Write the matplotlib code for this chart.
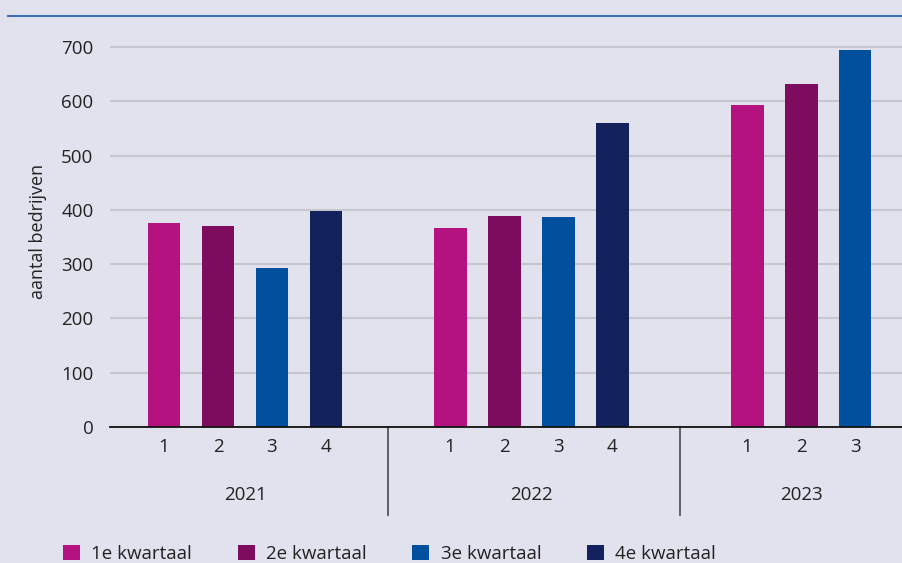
import matplotlib

matplotlib.use("Agg")
import matplotlib.pyplot as plt
from matplotlib.lines import Line2D
from matplotlib.patches import Patch

years = ["2021", "2022", "2023"]
quarters = [
    ["1", "2", "3", "4"],
    ["1", "2", "3", "4"],
    ["1", "2", "3"],
]
values = [
    [376, 370, 293, 398],
    [366, 389, 387, 560],
    [593, 632, 694],
]
legend_labels = ["1e kwartaal", "2e kwartaal", "3e kwartaal", "4e kwartaal"]
colors = ["#B3127F", "#7D0C5E", "#01509E", "#13215C"]

bg = "#E2E2EE"
plt.rcParams["font.family"] = ["Open Sans", "DejaVu Sans"]

fig = plt.figure(figsize=(9.02, 5.63), dpi=100, facecolor=bg)
ax = fig.add_axes([0.122, 0.2416, 0.878, 0.694])
ax.set_facecolor(bg)

group_gaps = [2.3, 2.5]
bar_width = 0.61

tick_pos = []
tick_lab = []
group_bounds = []
start = 0.0
for g, year in enumerate(years):
    xs = [start + i for i in range(len(values[g]))]
    for i, (x, v) in enumerate(zip(xs, values[g])):
        ax.bar(x, v, width=bar_width, color=colors[i], zorder=3)
    tick_pos += xs
    tick_lab += quarters[g]
    group_bounds.append((xs[0], xs[-1]))
    if g < len(group_gaps):
        start = xs[-1] + group_gaps[g]

ax.set_xlim(-1.0, 13.67)
ax.set_ylim(0, 720)
ax.set_yticks(range(0, 701, 100))
ax.set_xticks(tick_pos)
ax.set_xticklabels(tick_lab)
ax.tick_params(axis="x", length=0, pad=8, labelsize=13.5, colors="#222222")
ax.tick_params(axis="y", length=0, pad=12, labelsize=13.5, colors="#222222")
ax.grid(axis="y", color="#C6C6CF", linewidth=1.5, zorder=0)
for s in ["top", "right", "left"]:
    ax.spines[s].set_visible(False)
ax.spines["bottom"].set_color("#111111")
ax.spines["bottom"].set_linewidth(1.3)
ax.spines["bottom"].set_zorder(4)

ax.set_ylabel("aantal bedrijven", fontsize=13, color="#222222", labelpad=10)

# year labels and separators below the axis
trans = ax.get_xaxis_transform()
for g, (a, b) in enumerate(group_bounds):
    ax.text((a + b) / 2, -0.174, years[g], transform=trans, ha="center",
            va="center", fontsize=13.5, color="#222222")
    if g > 0:
        sep = (group_bounds[g - 1][1] + a) / 2
        ax.add_line(Line2D([sep, sep], [0, -0.225], transform=trans,
                           color="#555555", linewidth=1.3, clip_on=False))

# header rule
fig.add_artist(Line2D([0.009, 1.0], [0.971, 0.971], transform=fig.transFigure,
                      color="#3D72B4", linewidth=1.5))

handles = [Patch(facecolor=c, edgecolor="none") for c in colors]
fig.legend(handles, legend_labels, loc="lower left", bbox_to_anchor=(0.051, -0.03),
           ncol=4, frameon=False, fontsize=13.5, handlelength=0.9, handleheight=0.9,
           handletextpad=0.6, columnspacing=2.45, labelcolor="#222222")

plt.savefig("out.png", dpi=100, facecolor=bg)
